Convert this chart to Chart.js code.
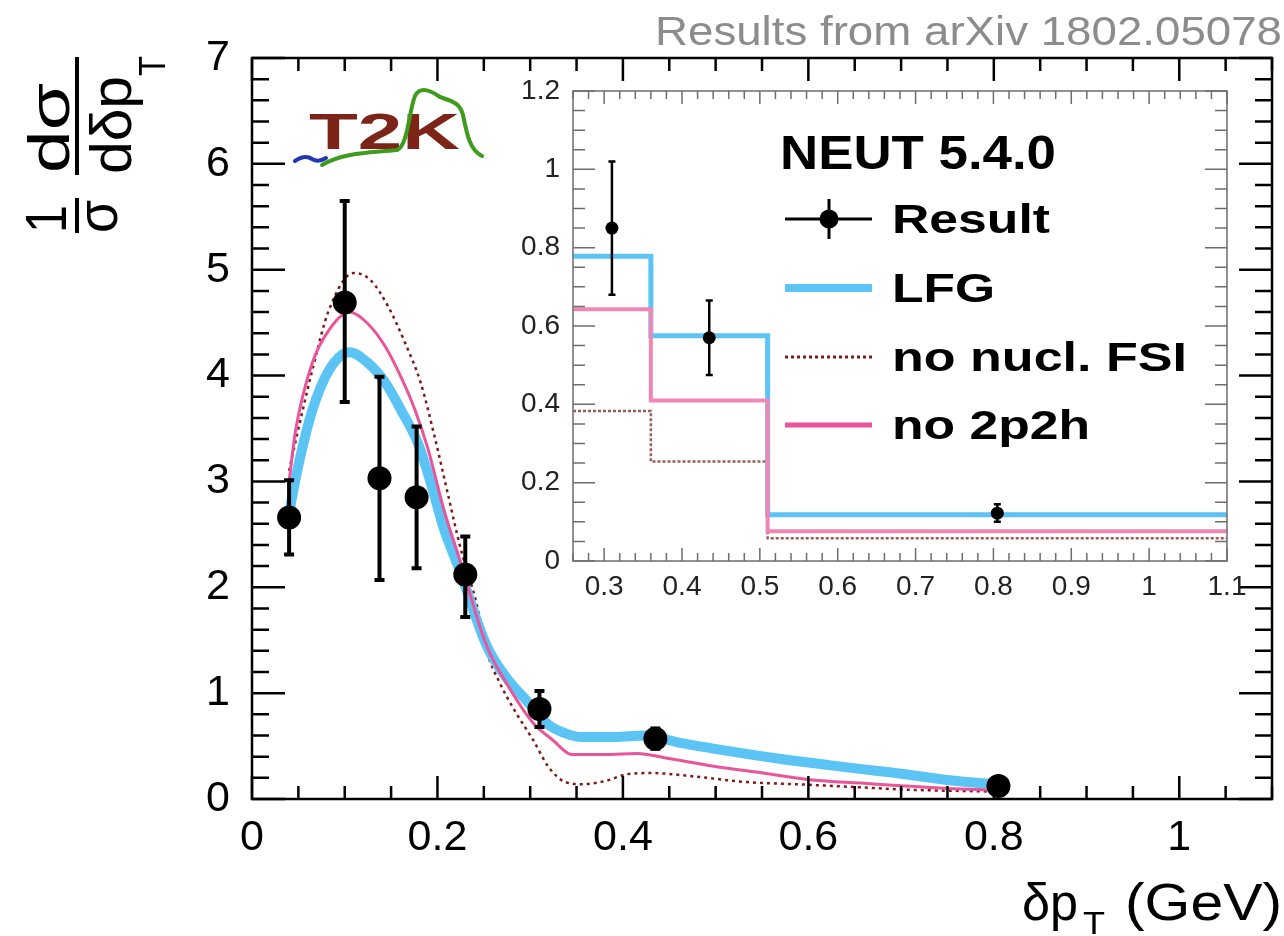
<!DOCTYPE html>
<html>
<head>
<meta charset="utf-8">
<script src="https://cdn.jsdelivr.net/npm/chart.js@4.4.0/dist/chart.umd.min.js"></script>
<style>
  html, body { margin: 0; padding: 0; background: #fff; }
  #wrap { position: relative; width: 1284px; height: 936px; overflow: hidden; }
  #mainChart { position: absolute; left: 0; top: 0; }
  #insetChart { position: absolute; left: 480px; top: 60px; }
</style>
</head>
<body>
<div id="wrap">
  <canvas id="mainChart" width="1284" height="936"></canvas>
  <canvas id="insetChart" width="780" height="560"></canvas>
</div>
<script>
const FONT = "'Liberation Sans', Arial, sans-serif";

// measured result (bin centres in GeV)
const resultX = [0.04, 0.10, 0.1375, 0.1775, 0.23, 0.31, 0.435, 0.805];
const resultY = [2.66, 4.69, 3.03, 2.85, 2.12, 0.85, 0.57, 0.122];
const errLow  = [2.31, 3.75, 2.07, 2.18, 1.72, 0.68, 0.475, 0.10];
const errHigh = [3.01, 5.65, 3.99, 3.52, 2.48, 1.02, 0.665, 0.145];

// NEUT 5.4.0 curves
const lfgX = [0.04, 0.05, 0.065, 0.083, 0.105, 0.125, 0.144, 0.161, 0.179, 0.193, 0.207, 0.224, 0.253, 0.274, 0.296, 0.32, 0.338, 0.356, 0.391, 0.423, 0.462, 0.516, 0.569, 0.622, 0.66, 0.69, 0.76, 0.80];
const lfgY = [2.70, 3.15, 3.67, 4.05, 4.22, 4.12, 3.93, 3.67, 3.36, 2.98, 2.55, 2.16, 1.45, 1.15, 0.93, 0.70, 0.62, 0.585, 0.585, 0.60, 0.53, 0.45, 0.38, 0.32, 0.28, 0.25, 0.17, 0.14];

const no2p2hX = [0.04, 0.047, 0.065, 0.083, 0.105, 0.125, 0.144, 0.161, 0.176, 0.19, 0.207, 0.224, 0.253, 0.274, 0.303, 0.324, 0.345, 0.38, 0.416, 0.445, 0.498, 0.551, 0.604, 0.657, 0.70, 0.75, 0.80];
const no2p2hY = [3.00, 3.48, 4.12, 4.43, 4.60, 4.49, 4.27, 3.98, 3.67, 3.30, 2.73, 2.26, 1.45, 1.10, 0.72, 0.56, 0.42, 0.42, 0.43, 0.39, 0.31, 0.245, 0.18, 0.15, 0.125, 0.10, 0.085];

const noFsiX = [0.04, 0.045, 0.065, 0.083, 0.11, 0.128, 0.147, 0.165, 0.182, 0.197, 0.211, 0.224, 0.242, 0.253, 0.267, 0.285, 0.303, 0.32, 0.338, 0.356, 0.381, 0.405, 0.431, 0.48, 0.533, 0.586, 0.657, 0.70, 0.80];
const noFsiY = [3.10, 3.30, 4.05, 4.62, 4.97, 4.90, 4.65, 4.31, 3.93, 3.42, 2.89, 2.40, 1.85, 1.40, 1.10, 0.81, 0.56, 0.30, 0.16, 0.14, 0.17, 0.235, 0.245, 0.21, 0.16, 0.14, 0.11, 0.09, 0.07];

const xTicks = [0, 0.2, 0.4, 0.6, 0.8, 1];
const yTicks = [0, 1, 2, 3, 4, 5, 6, 7];

// inset: last three bins as histograms
const binEdges = [0.26, 0.36, 0.51, 1.1];
const insetLfg = [0.778, 0.575, 0.118];
const insetNo2p2h = [0.643, 0.41, 0.076];
const insetNoFsi = [0.383, 0.254, 0.058];
const insetPoints = [5, 6, 7];
const insetXTicks = [0.3, 0.4, 0.5, 0.6, 0.7, 0.8, 0.9, 1, 1.1];
const insetYTicks = [0, 0.2, 0.4, 0.6, 0.8, 1, 1.2];

const BLUE = "#5cc4f5";
const PINK = "#e9559a";
const PINK_LIGHT = "#ef86b5";
const BROWN = "#7d1a1a";

const pts = (xs, ys) => xs.map((x, i) => ({ x: x, y: ys[i] }));
const hist = vals => binEdges.map((e, i) => ({ x: e, y: vals[Math.min(i, vals.length - 1)] }));

function stretchText(ctx, text, x, y, w) {
  const m = ctx.measureText(text).width;
  ctx.save();
  ctx.translate(x, y);
  ctx.scale(w / m, 1);
  ctx.fillText(text, 0, 0);
  ctx.restore();
}

// ROOT style frame with ticks inside on all four sides
const rootFrame = {
  id: "rootFrame",
  afterDraw(chart, args, o) {
    const { ctx, chartArea: a, scales: { x, y } } = chart;
    ctx.save();
    ctx.strokeStyle = o.color;
    ctx.lineWidth = o.width;
    ctx.strokeRect(a.left, a.top, a.right - a.left, a.bottom - a.top);
    ctx.lineWidth = o.tickWidth;
    ctx.beginPath();
    const isMajor = (v, step) => Math.abs(v / step - Math.round(v / step)) < 1e-6;
    for (let k = Math.ceil(x.min / o.xMinor - 1e-6); k * o.xMinor <= x.max + 1e-6; k++) {
      const v = k * o.xMinor;
      const px = x.getPixelForValue(v);
      const len = isMajor(v, o.xMajor) ? o.xMajorLen : o.xMinorLen;
      ctx.moveTo(px, a.bottom); ctx.lineTo(px, a.bottom - len);
      ctx.moveTo(px, a.top); ctx.lineTo(px, a.top + len);
    }
    for (let k = Math.ceil(y.min / o.yMinor - 1e-6); k * o.yMinor <= y.max + 1e-6; k++) {
      const v = k * o.yMinor;
      const py = y.getPixelForValue(v);
      const len = isMajor(v, o.yMajor) ? o.yMajorLen : o.yMinorLen;
      ctx.moveTo(a.left, py); ctx.lineTo(a.left + len, py);
      ctx.moveTo(a.right, py); ctx.lineTo(a.right - len, py);
    }
    ctx.stroke();
    ctx.restore();
  }
};

const errorBars = {
  id: "errorBars",
  afterDatasetsDraw(chart, args, o) {
    const { ctx, scales: { x, y } } = chart;
    ctx.save();
    ctx.strokeStyle = "#000";
    ctx.lineWidth = o.width;
    ctx.beginPath();
    o.idx.forEach(i => {
      const px = x.getPixelForValue(resultX[i]);
      const lo = y.getPixelForValue(errLow[i]);
      const hi = y.getPixelForValue(errHigh[i]);
      ctx.moveTo(px, lo); ctx.lineTo(px, hi);
      ctx.moveTo(px - o.cap, lo); ctx.lineTo(px + o.cap, lo);
      ctx.moveTo(px - o.cap, hi); ctx.lineTo(px + o.cap, hi);
    });
    ctx.stroke();
    ctx.restore();
  }
};

// titles, logo and header of the main pad
const mainDecor = {
  id: "mainDecor",
  afterDraw(chart) {
    const ctx = chart.ctx;
    ctx.save();
    ctx.textBaseline = "alphabetic";

    ctx.fillStyle = "#8c8c8c";
    ctx.font = `40px ${FONT}`;
    stretchText(ctx, "Results from arXiv 1802.05078", 655, 45, 627);

    // x title
    ctx.fillStyle = "#000";
    ctx.font = `52px ${FONT}`;
    stretchText(ctx, "δp", 1022, 920, 56);
    stretchText(ctx, "(GeV)", 1125, 920, 157);
    ctx.font = `32px ${FONT}`;
    stretchText(ctx, "T", 1083, 934, 22);

    // y title, rotated
    ctx.save();
    ctx.translate(77, 0);
    ctx.rotate(-Math.PI / 2);
    ctx.font = `58px ${FONT}`;
    stretchText(ctx, "1", -233, -11, 28);
    stretchText(ctx, "σ", -233, 40, 33);
    stretchText(ctx, "dσ", -173, -8, 90);
    ctx.font = `58px ${FONT}`;
    stretchText(ctx, "dδp", -174, 54, 98);
    ctx.font = `36px ${FONT}`;
    stretchText(ctx, "T", -76, 88, 20);
    ctx.lineWidth = 4;
    ctx.strokeStyle = "#000";
    ctx.beginPath();
    ctx.moveTo(-233, 0); ctx.lineTo(-198, 0);
    ctx.moveTo(-175, 0); ctx.lineTo(-57, 0);
    ctx.stroke();
    ctx.restore();

    // T2K logo
    ctx.fillStyle = "#7b2417";
    ctx.font = `bold 50px ${FONT}`;
    stretchText(ctx, "T2K", 309, 149, 151);
    ctx.lineJoin = "round";
    ctx.lineCap = "round";
    ctx.lineWidth = 4;
    ctx.strokeStyle = "#2238b0";
    ctx.beginPath();
    ctx.moveTo(295, 161); ctx.quadraticCurveTo(305, 154, 312, 159); ctx.quadraticCurveTo(318, 163, 326, 158);
    ctx.stroke();
    ctx.strokeStyle = "#3f9b1e";
    ctx.beginPath();
    ctx.moveTo(322, 165);
    ctx.bezierCurveTo(345, 152, 370, 153, 397, 150);
    ctx.bezierCurveTo(408, 146, 409, 110, 415, 96);
    ctx.bezierCurveTo(420, 86, 430, 90, 440, 97);
    ctx.bezierCurveTo(455, 102, 460, 104, 463, 115);
    ctx.bezierCurveTo(467, 135, 470, 150, 482, 156);
    ctx.stroke();
    ctx.restore();
  }
};

new Chart(document.getElementById("mainChart"), {
  type: "scatter",
  data: {
    datasets: [
      { label: "Result", data: pts(resultX, resultY), pointRadius: 12, pointBackgroundColor: "#000",
        pointBorderWidth: 0, order: 0 },
      { label: "no 2p2h", data: pts(no2p2hX, no2p2hY), showLine: true, borderColor: PINK, borderWidth: 3,
        pointRadius: 0, cubicInterpolationMode: "monotone", order: 1 },
      { label: "LFG", data: pts(lfgX, lfgY), showLine: true, borderColor: BLUE, borderWidth: 10,
        pointRadius: 0, cubicInterpolationMode: "monotone", order: 2 },
      { label: "no nucl. FSI", data: pts(noFsiX, noFsiY), showLine: true, borderColor: BROWN, borderWidth: 2.5,
        borderDash: [3, 4], pointRadius: 0, cubicInterpolationMode: "monotone", order: 3 }
    ]
  },
  options: {
    responsive: false,
    animation: false,
    layout: { padding: { top: 58, right: 1, left: 0, bottom: 0 } },
    plugins: {
      legend: { display: false },
      tooltip: { enabled: false },
      errorBars: { idx: [0, 1, 2, 3, 4, 5, 6, 7], width: 4, cap: 5 },
      rootFrame: { color: "#000", width: 2.5, tickWidth: 2.5,
        xMinor: 0.05, xMajor: 0.2, xMinorLen: 13, xMajorLen: 23,
        yMinor: 0.2, yMajor: 1, yMinorLen: 17, yMajorLen: 33 }
    },
    scales: {
      x: {
        type: "linear", min: 0, max: 1.1,
        grid: { display: false, drawTicks: false }, border: { display: false },
        afterBuildTicks: s => { s.ticks = xTicks.map(v => ({ value: v })); },
        afterFit: s => { s.height = 137; },
        ticks: { font: { family: FONT, size: 43 }, color: "#000", padding: 13, maxRotation: 0, autoSkip: false,
          callback: v => String(v) }
      },
      y: {
        type: "linear", min: 0, max: 7,
        grid: { display: false, drawTicks: false }, border: { display: false },
        afterBuildTicks: s => { s.ticks = yTicks.map(v => ({ value: v })); },
        afterFit: s => { s.width = 252; },
        ticks: { font: { family: FONT, size: 43 }, color: "#000", padding: 22, autoSkip: false,
          callback: v => String(v) }
      }
    }
  },
  plugins: [rootFrame, errorBars, mainDecor]
});

// legend inside the inset pad
const insetLegend = {
  id: "insetLegend",
  afterDraw(chart) {
    const ctx = chart.ctx;
    ctx.save();
    ctx.fillStyle = "#000";
    ctx.textBaseline = "alphabetic";
    ctx.font = `bold 48px ${FONT}`;
    stretchText(ctx, "NEUT 5.4.0", 300, 109, 276);

    const x0 = 305, x1 = 392, tx = 412;
    const rows = [
      { label: "Result", y: 159, w: 158 },
      { label: "LFG", y: 228, w: 103 },
      { label: "no nucl. FSI", y: 297, w: 295 },
      { label: "no 2p2h", y: 365, w: 198 }
    ];
    ctx.font = `bold 40px ${FONT}`;
    rows.forEach(r => stretchText(ctx, r.label, tx, r.y + 14, r.w));

    ctx.lineCap = "butt";
    // Result
    ctx.strokeStyle = "#000";
    ctx.lineWidth = 3;
    ctx.beginPath();
    ctx.moveTo(x0, rows[0].y); ctx.lineTo(x1, rows[0].y);
    ctx.moveTo(349, rows[0].y - 20); ctx.lineTo(349, rows[0].y + 20);
    ctx.stroke();
    ctx.fillStyle = "#000";
    ctx.beginPath();
    ctx.arc(349, rows[0].y, 9.5, 0, Math.PI * 2);
    ctx.fill();
    // LFG
    ctx.strokeStyle = BLUE;
    ctx.lineWidth = 8;
    ctx.beginPath(); ctx.moveTo(x0, rows[1].y); ctx.lineTo(x1, rows[1].y); ctx.stroke();
    // no nucl. FSI
    ctx.strokeStyle = BROWN;
    ctx.lineWidth = 3;
    ctx.setLineDash([3, 3]);
    ctx.beginPath(); ctx.moveTo(x0, rows[2].y); ctx.lineTo(x1, rows[2].y); ctx.stroke();
    ctx.setLineDash([]);
    // no 2p2h
    ctx.strokeStyle = PINK;
    ctx.lineWidth = 5;
    ctx.beginPath(); ctx.moveTo(x0, rows[3].y); ctx.lineTo(x1, rows[3].y); ctx.stroke();
    ctx.restore();
  }
};

new Chart(document.getElementById("insetChart"), {
  type: "scatter",
  data: {
    datasets: [
      { label: "Result", data: insetPoints.map(i => ({ x: resultX[i], y: resultY[i] })), pointRadius: 6.5,
        pointBackgroundColor: "#000", pointBorderWidth: 0, order: 0 },
      { label: "no 2p2h", data: hist(insetNo2p2h), showLine: true, stepped: "before", borderColor: PINK_LIGHT,
        borderWidth: 4, pointRadius: 0, order: 1 },
      { label: "LFG", data: hist(insetLfg), showLine: true, stepped: "before", borderColor: BLUE,
        borderWidth: 5, pointRadius: 0, order: 2 },
      { label: "no nucl. FSI", data: hist(insetNoFsi), showLine: true, stepped: "before", borderColor: "#9a5c58",
        borderWidth: 2.5, borderDash: [3, 2], pointRadius: 0, order: 3 }
    ]
  },
  options: {
    responsive: false,
    animation: false,
    layout: { padding: { top: 31, right: 33, left: 0, bottom: 0 } },
    plugins: {
      legend: { display: false },
      tooltip: { enabled: false },
      errorBars: { idx: insetPoints, width: 2.5, cap: 3.5 },
      rootFrame: { color: "#6d6d6d", width: 1.5, tickWidth: 1.5,
        xMinor: 0.02, xMajor: 0.1, xMinorLen: 8, xMajorLen: 13,
        yMinor: 0.05, yMajor: 0.2, yMinorLen: 12, yMajorLen: 22 }
    },
    scales: {
      x: {
        type: "linear", min: 0.26, max: 1.1,
        grid: { display: false, drawTicks: false }, border: { display: false },
        afterBuildTicks: s => { s.ticks = insetXTicks.map(v => ({ value: v })); },
        afterFit: s => { s.height = 59; },
        ticks: { font: { family: FONT, size: 28 }, color: "#222", padding: 9, maxRotation: 0, autoSkip: false,
          callback: v => String(v) }
      },
      y: {
        type: "linear", min: 0, max: 1.2,
        grid: { display: false, drawTicks: false }, border: { display: false },
        afterBuildTicks: s => { s.ticks = insetYTicks.map(v => ({ value: v })); },
        afterFit: s => { s.width = 93; },
        ticks: { font: { family: FONT, size: 28 }, color: "#222", padding: 13, autoSkip: false,
          callback: v => String(v) }
      }
    }
  },
  plugins: [rootFrame, errorBars, insetLegend]
});
</script>
</body>
</html>
